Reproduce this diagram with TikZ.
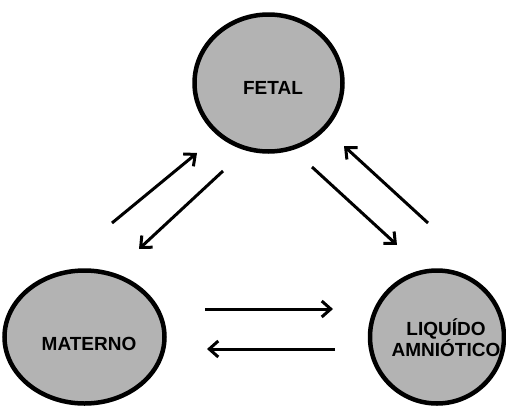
\documentclass[tikz,border=0pt]{standalone}
\usepackage{fontspec}
\setmainfont{Liberation Sans}
\usetikzlibrary{shapes.geometric, arrows.meta}
\definecolor{bolsagris}{RGB}{179,179,179}

\begin{document}
\begin{tikzpicture}[x=1pt, y=-1pt,
    bolsa/.style={ellipse, draw, line width=4.5pt, fill=bolsagris, inner sep=0pt},
    rotulo/.style={font=\fontsize{19}{21}\selectfont\bfseries, align=center},
    flecha/.style={-{Straight Barb[length=9pt, width=16pt]}, line width=3pt}]
    %compartimentos
    \useasboundingbox (0,0) rectangle (506,407);
    \node[bolsa, minimum width=148pt, minimum height=137pt] at (268.5, 83) (fetal){};
    \node[bolsa, minimum width=160pt, minimum height=133pt] at (84.5, 337) (materno){};
    \node[bolsa, minimum width=134pt, minimum height=133pt] at (437, 337) (liquido){};
    \node[rotulo] at ([shift={(4.5,5)}]fetal.center) (fetal-txt){FETAL};
    \node[rotulo] at ([shift={(4.5,7)}]materno.center) (materno-txt){MATERNO};
    \node[rotulo] at ([shift={(9,0.5)}]liquido.center) (liquido-txt){LIQUÍDO\\AMNIÓTICO};
    %intercambios
    \coordinate (mf-a) at (112, 223);
    \coordinate (mf-b) at (197, 153);
    \coordinate (fm-a) at (223, 171);
    \coordinate (fm-b) at (139, 249);
    \coordinate (lf-a) at (428, 223);
    \coordinate (lf-b) at (344, 146);
    \coordinate (fl-a) at (312, 167);
    \coordinate (fl-b) at (397, 245);
    \coordinate (ml-a) at (205, 309);
    \coordinate (ml-b) at (333, 309);
    \coordinate (lm-a) at (335, 349);
    \coordinate (lm-b) at (207, 349);
    \draw[flecha] (mf-a) -- (mf-b);
    \draw[flecha] (fm-a) -- (fm-b);
    \draw[flecha] (lf-a) -- (lf-b);
    \draw[flecha] (fl-a) -- (fl-b);
    \draw[flecha] (ml-a) -- (ml-b);
    \draw[flecha] (lm-a) -- (lm-b);
\end{tikzpicture}
\end{document}
